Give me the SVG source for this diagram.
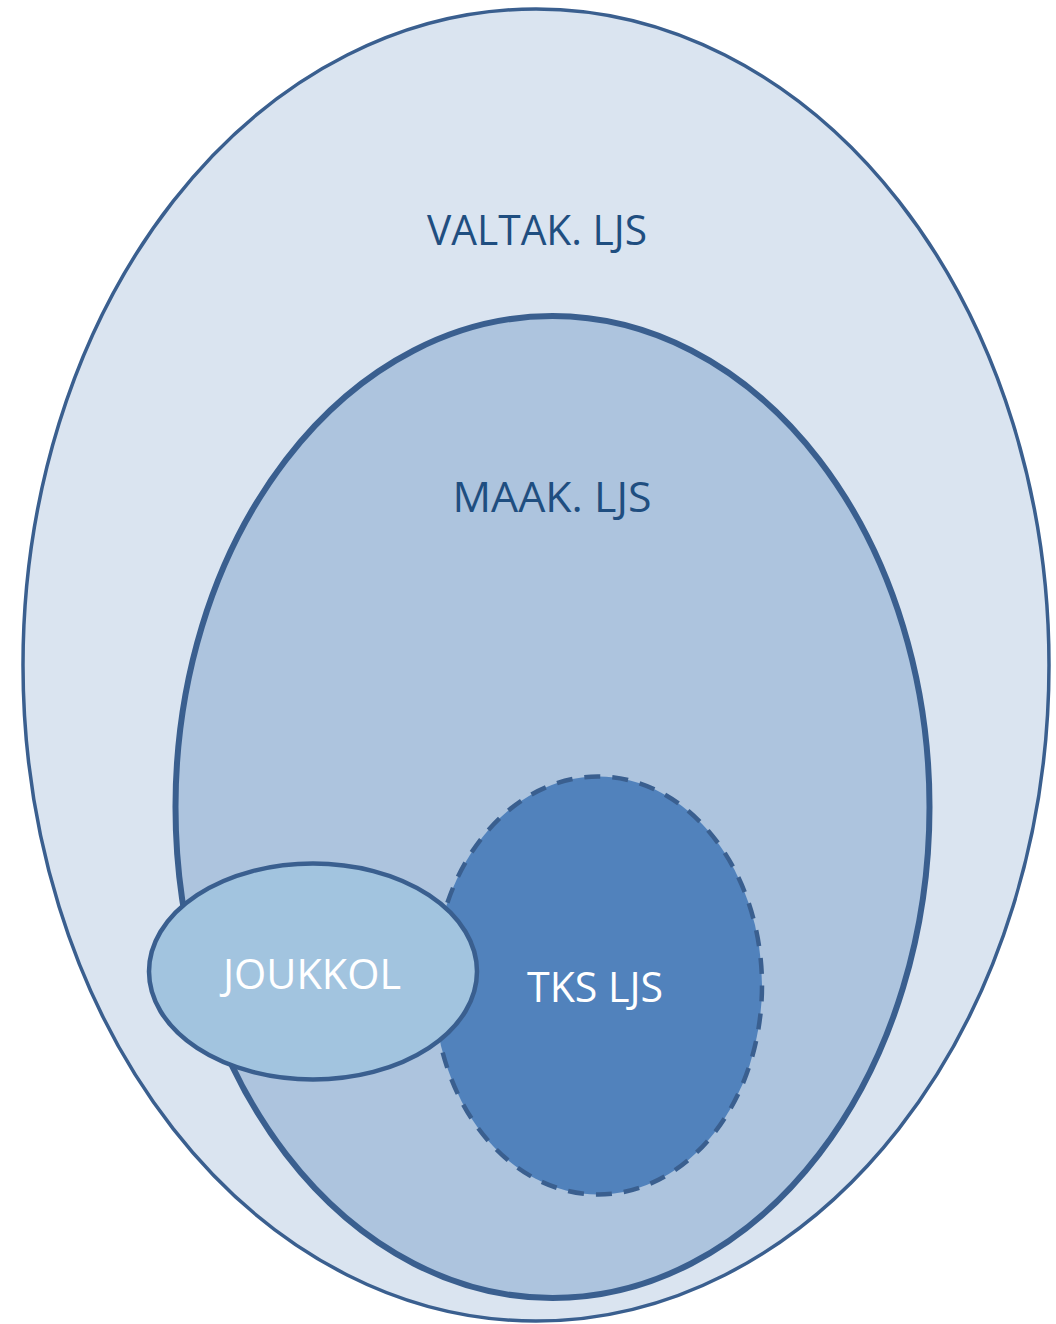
<svg xmlns="http://www.w3.org/2000/svg" width="1056" height="1324" viewBox="0 0 1056 1324">
<style>
.lbl{font-family:"Open Sans","Liberation Sans",sans-serif;text-anchor:middle}
.dark{fill:#1f4e80}
.light{fill:#ffffff}
.edge{stroke:#3a5f8f}
</style>
<rect width="1056" height="1324" fill="#ffffff"/>
<g id="valtak">
<ellipse class="edge" cx="536" cy="665" rx="513" ry="656" fill="#dae4f0" stroke-width="3.5"/>
<text class="lbl dark" x="537" y="245" font-size="42" textLength="220" lengthAdjust="spacingAndGlyphs">VALTAK. LJS</text>
</g>
<g id="maak">
<ellipse class="edge" cx="552.5" cy="807" rx="377" ry="491" fill="#adc4de" stroke-width="6"/>
<text class="lbl dark" x="552" y="512" font-size="42" textLength="199" lengthAdjust="spacingAndGlyphs">MAAK. LJS</text>
</g>
<g id="tks">
<ellipse class="edge" cx="598" cy="985.5" rx="164" ry="209" fill="#5182bc" stroke-width="4.5" stroke-dasharray="16 12"/>
<text class="lbl light" x="595" y="1002" font-size="42" textLength="136" lengthAdjust="spacingAndGlyphs">TKS LJS</text>
</g>
<g id="joukkol">
<ellipse class="edge" cx="313" cy="971.5" rx="164" ry="108" fill="#a2c4df" stroke-width="4.5"/>
<text class="lbl light" x="312" y="989" font-size="42" textLength="178" lengthAdjust="spacingAndGlyphs">JOUKKOL</text>
</g>
<g id="connectors"></g>
</svg>
